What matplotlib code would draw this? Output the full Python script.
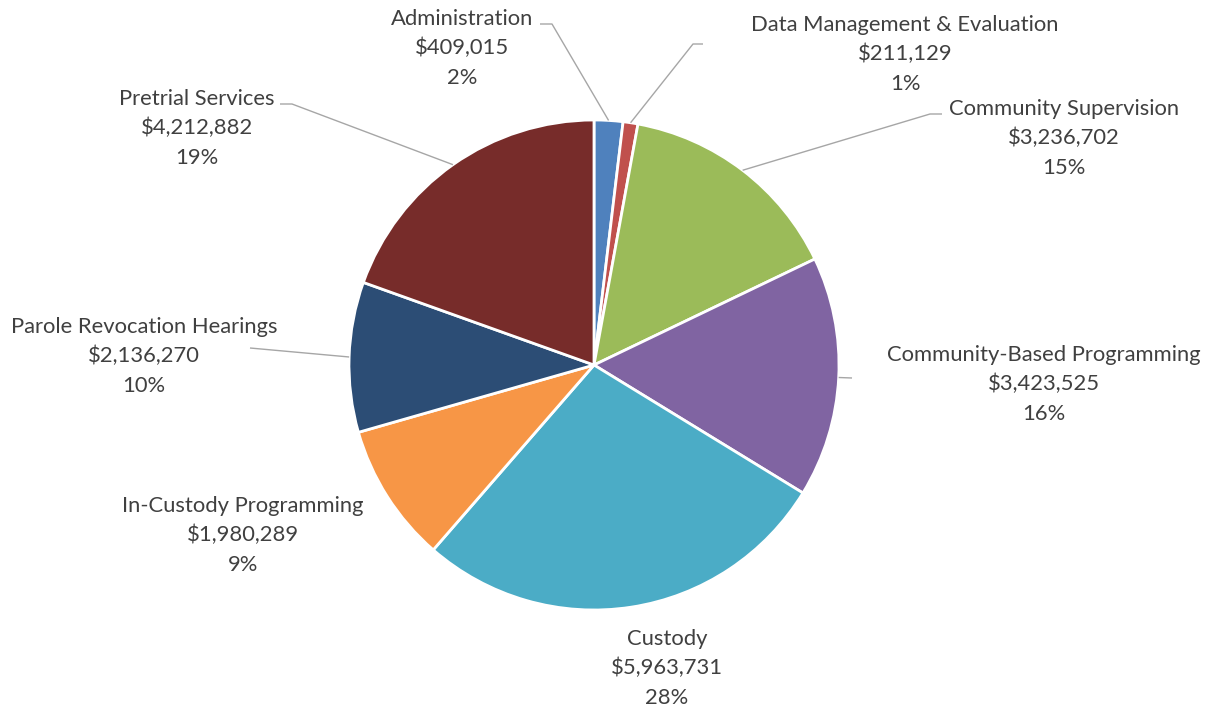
import numpy as np
import matplotlib.pyplot as plt

# Budget allocation by program area
categories = [
    "Administration",
    "Data Management & Evaluation",
    "Community Supervision",
    "Community-Based Programming",
    "Custody",
    "In-Custody Programming",
    "Parole Revocation Hearings",
    "Pretrial Services",
]
amounts = [409015, 211129, 3236702, 3423525, 5963731, 1980289, 2136270, 4212882]
percent_labels = ["2%", "1%", "15%", "16%", "28%", "9%", "10%", "19%"]
colors = ["#4F81BD", "#C0504D", "#9BBB59", "#8064A2",
          "#4BACC6", "#F79646", "#2C4D75", "#772C2A"]

W, H = 1215, 708
fig = plt.figure(figsize=(W / 100, H / 100), dpi=100)
ax = fig.add_axes([0, 0, 1, 1])


def px(x, y):
    """Convert a top-left based pixel position to axes data coordinates."""
    return x, H - y


center = px(594, 365)
radius = 245

wedges, _ = ax.pie(amounts, colors=colors, startangle=90, counterclock=False,
                   center=center, radius=radius,
                   wedgeprops=dict(edgecolor="white", linewidth=2.0))
ax.set_xlim(0, W)
ax.set_ylim(0, H)
ax.set_aspect("equal")
ax.axis("off")

# Label layout: (center x, first baseline y) and leader-line elbow points
label_pos = [
    (462, 25), (905, 31), (1064, 115), (1044, 361),
    (667, 645), (243, 512), (144, 333), (197, 105),
]
leaders = [
    [(552, 24), (540, 24)],
    [(693, 44), (703, 44)],
    [(930, 114), (942, 114)],
    [(852, 378)],
    None,
    None,
    [(250, 348)],
    [(292, 104), (280, 104)],
]

text_color = "#404040"
line_gap = 29.5
for i, name in enumerate(categories):
    lx, ly = label_pos[i]
    lines = [name, f"${amounts[i]:,}", percent_labels[i]]
    for k, s in enumerate(lines):
        ax.text(*px(lx, ly + k * line_gap), s, ha="center", va="baseline",
                fontsize=15.8, family="Lato", color=text_color)
    if leaders[i] is not None:
        w = wedges[i]
        th = np.deg2rad((w.theta1 + w.theta2) / 2)
        ex = center[0] + radius * np.cos(th)
        ey = center[1] + radius * np.sin(th)
        pts = [(ex, ey)] + [px(*p) for p in leaders[i]]
        xs, ys = zip(*pts)
        ax.plot(xs, ys, color="#A6A6A6", lw=1.0, solid_capstyle="butt")

fig.savefig("out.png", dpi=100, facecolor="white")
